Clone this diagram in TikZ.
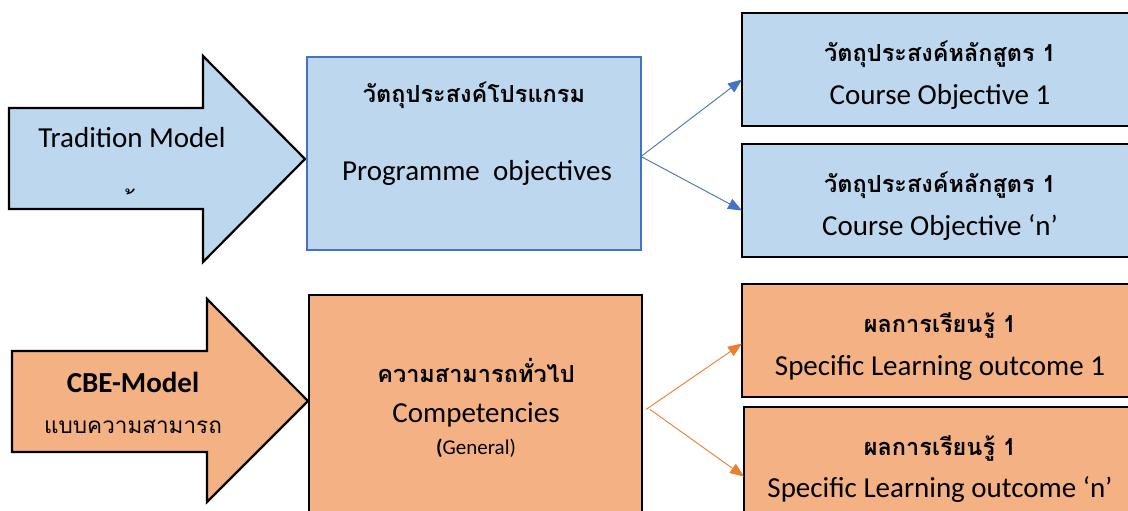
\documentclass[tikz,border=0pt]{standalone}
\usepackage{fontspec}
\setmainfont{Carlito}
\newfontfamily\thai[Script=Thai]{Loma}
\usetikzlibrary{arrows.meta}

\definecolor{bluefill}{HTML}{BDD7EE}
\definecolor{blueline}{HTML}{4472C4}
\definecolor{orangefill}{HTML}{F4B183}
\definecolor{orangeline}{HTML}{ED7D31}

\tikzset{
  blockarrow/.style={draw=black, line width=2.2pt, line join=miter},
  panel/.style={draw=black, line width=2.2pt, anchor=north west, inner sep=0pt, outer sep=0pt},
  en/.style={font=\fontsize{29}{34}\selectfont, inner sep=0pt},
  th/.style={font=\thai\fontsize{22.5}{27}\selectfont, inner sep=0pt},
  thb/.style={font=\thai\bfseries\fontsize{23.5}{28}\selectfont, inner sep=0pt},
  link/.style={line width=0.9pt, -{Triangle[length=14pt,width=11pt]}},
}

\begin{document}
\begin{tikzpicture}[x=1pt, y=-1pt]
\useasboundingbox (0,0) rectangle (1128,511);

% ---- traditional model (upper row) ----
\fill[bluefill, blockarrow] (9,108) -- (203,108) -- (203,56) -- (305,159)
  -- (203,262) -- (203,209) -- (9,209) -- cycle;
\node[en] (trad) at (132,138) {Tradition Model};
\node[th, font=\thai\fontsize{26}{30}\selectfont] (tradmark) at (134,203) {้};

\node[panel, fill=bluefill, draw=blueline, line width=1.8pt,
  minimum width=334pt, minimum height=193pt] (prog) at (307,57) {};
\node[thb] (progth) at (474,95) {วัตถุประสงค์โปรแกรม};
\node[en] (progen) at (477,173) {Programme\ \ objectives};

\node[panel, fill=bluefill, minimum width=400pt, minimum height=113pt] (co1) at (742,13) {};
\node[thb] (co1th) at (940,54) {วัตถุประสงค์หลักสูตร 1};
\node[en] (co1en) at (940,97) {Course Objective 1};

\node[panel, fill=bluefill, minimum width=400pt, minimum height=113pt] (co2) at (742,144) {};
\node[thb] (co2th) at (940,185) {วัตถุประสงค์หลักสูตร 1};
\node[en] (co2en) at (940,228) {Course Objective ‘n’};

\draw[link, blueline] ([yshift=-3pt]prog.east) -- ([yshift=-10pt]co1.west);
\draw[link, blueline] ([yshift=-3pt]prog.east) -- ([yshift=-10pt]co2.west);

% ---- competency-based model (lower row) ----
\fill[orangefill, blockarrow] (12,351) -- (207,351) -- (207,299) -- (308,401)
  -- (207,502) -- (207,452) -- (12,452) -- cycle;
\node[en, font=\bfseries\fontsize{29}{34}\selectfont] (cbe) at (133,382) {CBE-Model};
\node[th] (cbeth) at (133,427) {แบบความสามารถ};

\node[panel, fill=orangefill, minimum width=333pt, minimum height=225pt] (comp) at (309,295) {};
\node[thb] (compth) at (476,370) {ความสามารถทั่วไป};
\node[en] (compen) at (476,415) {Competencies};
\node[en, font=\fontsize{21}{26}\selectfont] (compgen) at (476,448) {{\bfseries(}General)};

\node[panel, fill=orangefill, minimum width=400pt, minimum height=113pt] (lo1) at (742,284) {};
\node[thb] (lo1th) at (940,325) {ผลการเรียนรู้ 1};
\node[en] (lo1en) at (940,368) {Specific Learning outcome 1};

\node[panel, fill=orangefill, minimum width=400pt, minimum height=113pt] (lo2) at (744,407) {};
\node[thb] (lo2th) at (940,448) {ผลการเรียนรู้ 1};
\node[en] (lo2en) at (940,490) {Specific Learning outcome ‘n’};

\draw[link, orangeline] ([xshift=4pt,yshift=-2pt]comp.east) -- ([yshift=-3pt]lo1.west);
\draw[link, orangeline] ([xshift=8pt,yshift=-2pt]comp.east) -- ([yshift=-13pt]lo2.west);
\end{tikzpicture}
\end{document}
